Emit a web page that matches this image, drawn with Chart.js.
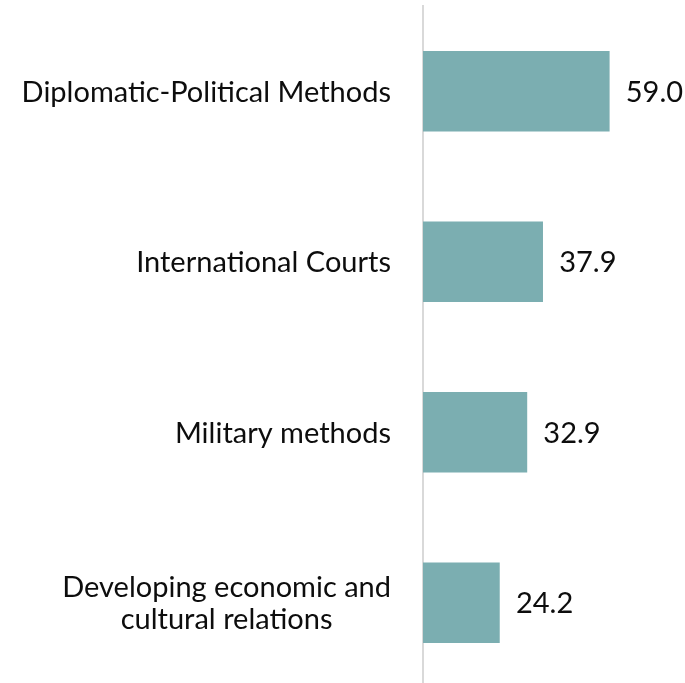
<!DOCTYPE html>
<html>
<head>
<meta charset="utf-8">
<script src="https://cdn.jsdelivr.net/npm/chart.js@4/dist/chart.umd.min.js"></script>
<style>
html,body{margin:0;padding:0;background:#fff;overflow:hidden;}
#wrap{position:relative;width:685px;height:688px;}
</style>
</head>
<body>
<div id="wrap"><canvas id="c"></canvas></div>
<script>
const categories = [
  "Diplomatic-Political Methods",
  "International Courts",
  "Military methods",
  ["Developing economic and", "cultural relations"]
];
const values = [59.0, 37.9, 32.9, 24.2];
const xMax = 70;

const FONT_SIZE = 29;
const FONT = FONT_SIZE + 'px Lato';
const CAP = FONT_SIZE * 0.717;
const LINE_H = 32.5;

const labelPlugin = {
  id: 'labelPlugin',
  afterDraw(chart) {
    const ctx = chart.ctx;
    const yScale = chart.scales.y;
    ctx.save();
    ctx.font = FONT;
    ctx.fillStyle = '#0d0d0d';
    ctx.textBaseline = 'alphabetic';
    const rightEdge = 391;
    chart.data.labels.forEach((lab, i) => {
      const lines = Array.isArray(lab) ? lab : [lab];
      const cy = yScale.getPixelForValue(i);
      const widths = lines.map(l => ctx.measureText(l).width);
      const blockW = Math.max(...widths);
      const b1 = cy + (CAP - LINE_H * (lines.length - 1)) / 2;
      lines.forEach((l, k) => {
        ctx.textAlign = 'center';
        ctx.fillText(l, rightEdge - blockW / 2, b1 + k * LINE_H);
      });
    });
    const meta = chart.getDatasetMeta(0);
    ctx.textAlign = 'left';
    meta.data.forEach((bar, i) => {
      const v = chart.data.datasets[0].data[i];
      ctx.fillText(v.toFixed(1), bar.x + 16.5, bar.y + CAP / 2);
    });
    ctx.restore();
  }
};

new Chart(document.getElementById('c'), {
  type: 'bar',
  data: {
    labels: categories,
    datasets: [{
      data: values,
      backgroundColor: '#7BAEB1',
      borderWidth: 0,
      barThickness: 80
    }]
  },
  options: {
    indexAxis: 'y',
    responsive: true,
    maintainAspectRatio: false,
    animation: false,
    layout: { padding: { top: 6, right: 41, bottom: 0, left: 0 } },
    plugins: { legend: { display: false }, tooltip: { enabled: false } },
    scales: {
      x: { display: false, min: 0, max: xMax },
      y: {
        afterFit(scale) { scale.width = 423; },
        ticks: { display: false },
        grid: { display: false, drawTicks: false },
        border: { display: true, color: '#d9d9d9', width: 2 }
      }
    }
  },
  plugins: [labelPlugin]
});
</script>
</body>
</html>
